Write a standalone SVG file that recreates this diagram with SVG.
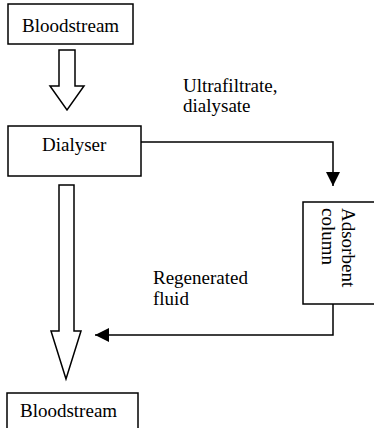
<svg xmlns="http://www.w3.org/2000/svg" width="374" height="428" viewBox="0 0 374 428" font-family="Liberation Serif, serif">
<defs>
<style>
.box{fill:#fff;stroke:#000;stroke-width:1.5}
.t{font-size:19px;fill:#000}
.line{fill:none;stroke:#000;stroke-width:1.5}
.hollow{fill:#fff;stroke:#000;stroke-width:1.5;stroke-linejoin:miter}
</style>
<marker id="ah" markerWidth="16" markerHeight="14" refX="14" refY="7" orient="auto" markerUnits="userSpaceOnUse">
<path d="M0,0 L14,7 L0,14 Z" fill="#000"/>
</marker>
</defs>
<rect width="374" height="428" fill="#fff"/>
<g id="connectors">
<polygon class="hollow" points="59,50 75,50 75,86 84,86 67,110 50,86 59,86"/>
<polygon class="hollow" points="59,185 74,185 74,331 81,331 66,379 51,331 59,331"/>
<polyline class="line" points="141,142 333,142 333,186" marker-end="url(#ah)"/>
<polyline class="line" points="333,304 333,335 95,335" marker-end="url(#ah)"/>
</g>
<g id="bloodstream-top">
<rect class="box" x="8" y="4" width="125" height="40"/>
<text class="t" x="22" y="32">Bloodstream</text>
</g>
<g id="dialyser">
<rect class="box" x="8" y="126" width="133" height="50"/>
<text class="t" x="42" y="151">Dialyser</text>
</g>
<g id="adsorbent">
<rect class="box" x="303" y="202" width="75" height="102"/>
<text class="t" transform="translate(342,208) rotate(90)">Adsorbent</text>
<text class="t" transform="translate(322,208) rotate(90)">column</text>
</g>
<g id="bloodstream-bottom">
<rect class="box" x="7" y="393" width="131" height="40"/>
<text class="t" x="20" y="417">Bloodstream</text>
</g>
<g id="labels">
<text class="t" x="183" y="92">Ultrafiltrate,</text>
<text class="t" x="183" y="112">dialysate</text>
<text class="t" x="153" y="284">Regenerated</text>
<text class="t" x="153" y="305">fluid</text>
</g>
</svg>
